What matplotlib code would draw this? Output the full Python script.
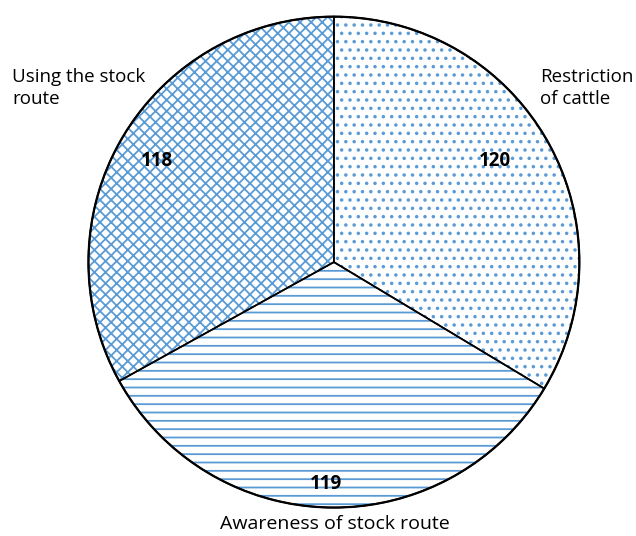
import matplotlib
matplotlib.use('Agg')
from matplotlib import pyplot as plt

labels = ['Restriction\nof cattle', 'Awareness of stock route', 'Using the stock\nroute']
values = [120, 119, 118]
hatches = ['..', '--', 'xxx']

plt.rcParams['font.family'] = ['Open Sans', 'DejaVu Sans']
plt.rcParams['hatch.linewidth'] = 1.3

fig = plt.figure(figsize=(6.36, 5.36), dpi=100)
ax = fig.add_axes([0.135, 0.0485, 0.780, 0.925])

# hatched fills in blue
wedges, _ = ax.pie(values, startangle=90, counterclock=False,
                   colors=['white'] * 3,
                   wedgeprops=dict(edgecolor='#5b9bd5', linewidth=0))
for w, h in zip(wedges, hatches):
    w.set_hatch(h)

# black outlines on top
ax.pie(values, startangle=90, counterclock=False,
       wedgeprops=dict(facecolor='none', edgecolor='black', linewidth=1.2))
circ = plt.Circle((0, 0), 1, fill=False, edgecolor='black', linewidth=1.6)
ax.add_patch(circ)

value_pos = [(0.657, 0.411), (-0.032, -0.903), (-0.722, 0.411)]
for (x, y), v in zip(value_pos, values):
    ax.text(x, y, str(v), ha='center', va='center', fontsize=13.5, fontweight='bold')

ax.set_xlim(-1.01, 1.01)
ax.set_ylim(-1.01, 1.01)
ax.set_aspect('equal')
ax.axis('off')

fig.text(0.849, 0.836, labels[0], ha='left', va='center', fontsize=13.5, linespacing=1.3)
fig.text(0.019, 0.836, labels[2], ha='left', va='center', fontsize=13.5, linespacing=1.3)
fig.text(0.527, 0.022, labels[1], ha='center', va='center', fontsize=14)

fig.savefig('out.png', dpi=100)
